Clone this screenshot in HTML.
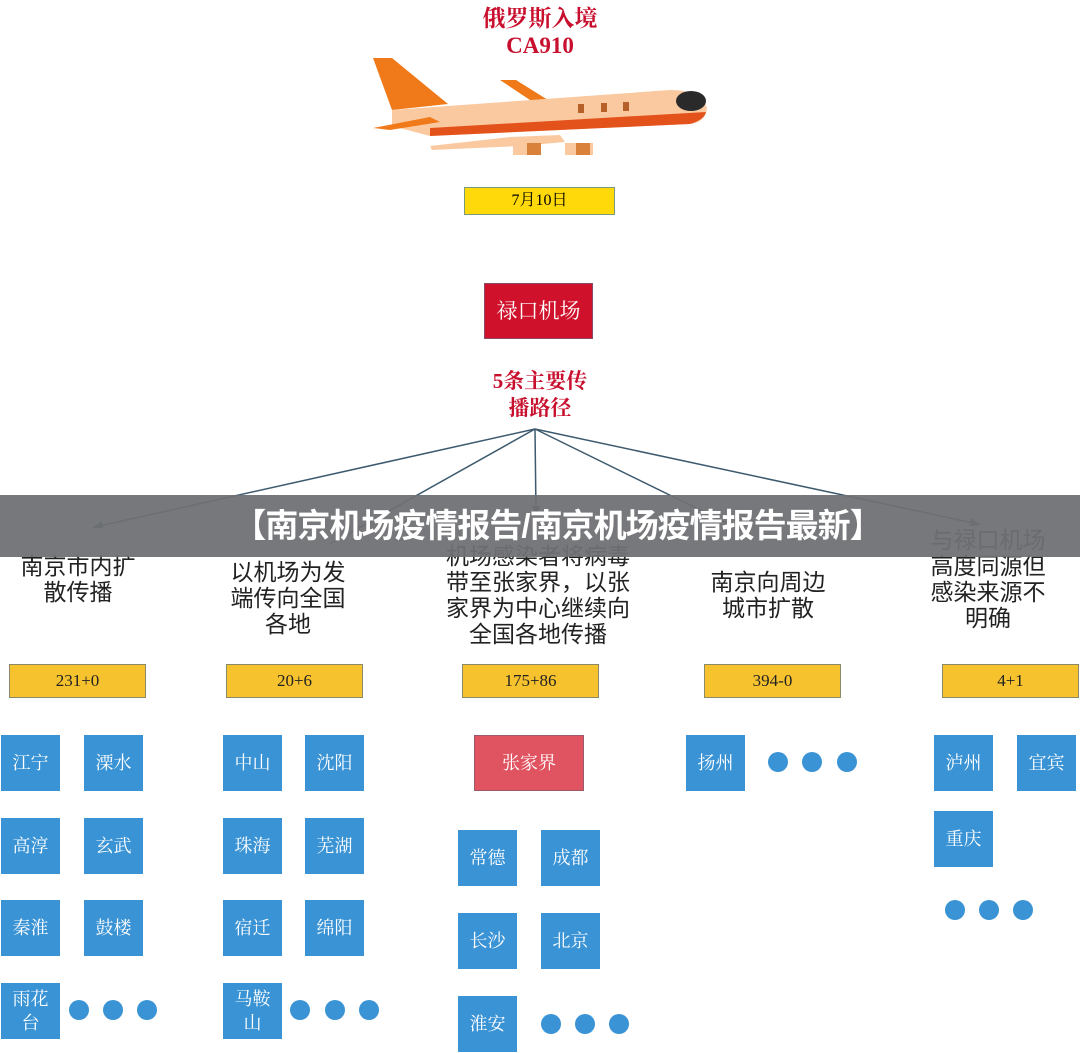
<!DOCTYPE html>
<html><head><meta charset="utf-8"><style>
html,body{margin:0;padding:0;background:#fff;}
body{width:1080px;height:1053px;position:relative;overflow:hidden;font-family:"Liberation Sans","Noto Sans CJK SC",sans-serif;}
.a{position:absolute;}
.red{color:#c8102e;font-family:"Liberation Serif","Noto Serif CJK SC",serif;font-size:23px;font-weight:bold;text-align:center;line-height:27px;}
.y{position:absolute;background:#f6c22e;border:1.5px solid #8a8a6a;box-sizing:border-box;height:34px;width:137px;text-align:center;line-height:31px;font-family:"Liberation Serif","Noto Serif CJK SC",serif;font-size:17px;color:#222;}
.b{position:absolute;width:59px;height:56px;background:#3a93d4;color:#fff;font-family:"Liberation Serif","Noto Serif CJK SC",serif;font-size:18px;display:flex;align-items:center;justify-content:center;text-align:center;line-height:24px;}
.d{position:absolute;width:20px;height:20px;border-radius:50%;background:#3a93d4;}
.l{position:absolute;font-size:23px;line-height:26px;text-align:center;color:#222;width:240px;}
</style></head><body>
<div class="a red" style="left:420px;top:5px;width:240px;">俄罗斯入境<br>CA910</div>
<svg class="a" style="left:0;top:0" width="1080" height="1053">
 <polygon points="373,58 392,58 448,104 392,110" fill="#f07a1a"/>
 <polygon points="500,80 516,80 548,100 530,100" fill="#f07a1a"/>
 <path d="M392,110 L670,90 Q700,90 707,108 Q706,122 690,124 L430,136 L392,126 Z" fill="#fbc9a0"/>
 <path d="M430,128 L706,112 Q704,120 690,124 L430,136 Z" fill="#e4521c"/>
 <ellipse cx="691" cy="101" rx="15" ry="10" fill="#2a2a2a"/>
 <rect x="578" y="104" width="6" height="9" fill="#b8602a"/>
 <rect x="601" y="103" width="6" height="9" fill="#b8602a"/>
 <rect x="623" y="102" width="6" height="9" fill="#b8602a"/>
 <polygon points="373,128 430,117 440,122 390,130" fill="#f07a1a"/>
 <polygon points="430,146 510,137 560,135 565,142 520,146 432,150" fill="#fbc9a0"/>
 <rect x="513" y="143" width="28" height="12" fill="#fbc9a0"/><rect x="527" y="143" width="14" height="12" fill="#d9803a"/>
 <rect x="565" y="143" width="28" height="12" fill="#fbc9a0"/><rect x="576" y="143" width="14" height="12" fill="#d9803a"/>
 <g stroke="#3d5a6e" stroke-width="1.5" fill="none">
  <line x1="535" y1="429" x2="95" y2="527"/>
  <line x1="535" y1="429" x2="330" y2="544"/>
  <line x1="535" y1="429" x2="536" y2="513"/>
  <line x1="535" y1="429" x2="745" y2="532"/>
  <line x1="535" y1="429" x2="978" y2="524"/>
 </g>
 <g fill="#3d5a6e">
  <polygon points="92,528 102,521 103,528"/>
  <polygon points="536,516 532,506 540,506"/>
  <polygon points="981,525 971,518 970,526"/>
 </g>
</svg>
<div class="a" style="left:464px;top:187px;width:151px;height:28px;background:#ffd90a;border:1.5px solid #7a9a7a;box-sizing:border-box;text-align:center;line-height:25px;font-family:'Liberation Serif','Noto Serif CJK SC',serif;font-size:16px;">7月10日</div>
<div class="a" style="left:484px;top:283px;width:109px;height:56px;background:#d0112b;border:1px solid #8a4a6a;box-sizing:border-box;color:#fff;text-align:center;line-height:54px;font-family:'Liberation Serif','Noto Serif CJK SC',serif;font-size:21px;">禄口机场</div>
<div class="a red" style="left:420px;top:368px;width:240px;font-size:21px;">5条主要传<br>播路径</div>

<div class="l" style="left:-42px;top:553px;">南京市内扩<br>散传播</div>
<div class="l" style="left:168px;top:559px;">以机场为发<br>端传向全国<br>各地</div>
<div class="l" style="left:418px;top:543px;">机场感染者将病毒<br>带至张家界，以张<br>家界为中心继续向<br>全国各地传播</div>
<div class="l" style="left:648px;top:569px;">南京向周边<br>城市扩散</div>
<div class="l" style="left:868px;top:527px;">与禄口机场<br>高度同源但<br>感染来源不<br>明确</div>

<div class="a" style="left:0;top:495px;width:1080px;height:62px;background:rgba(110,112,115,0.94);color:#fff;font-weight:bold;font-size:33px;letter-spacing:-1px;text-align:center;line-height:62px;padding-left:35px;box-sizing:border-box;">【南京机场疫情报告/南京机场疫情报告最新】</div>

<div class="y" style="left:9px;top:664px;">231+0</div>
<div class="y" style="left:226px;top:664px;">20+6</div>
<div class="y" style="left:462px;top:664px;">175+86</div>
<div class="y" style="left:704px;top:664px;">394-0</div>
<div class="y" style="left:942px;top:664px;">4+1</div>

<div class="b" style="left:1px;top:735px;">江宁</div><div class="b" style="left:84px;top:735px;">溧水</div>
<div class="b" style="left:1px;top:818px;">高淳</div><div class="b" style="left:84px;top:818px;">玄武</div>
<div class="b" style="left:1px;top:900px;">秦淮</div><div class="b" style="left:84px;top:900px;">鼓楼</div>
<div class="b" style="left:1px;top:983px;">雨花<br>台</div>
<div class="d" style="left:69px;top:1000px;"></div><div class="d" style="left:103px;top:1000px;"></div><div class="d" style="left:137px;top:1000px;"></div>

<div class="b" style="left:223px;top:735px;">中山</div><div class="b" style="left:305px;top:735px;">沈阳</div>
<div class="b" style="left:223px;top:818px;">珠海</div><div class="b" style="left:305px;top:818px;">芜湖</div>
<div class="b" style="left:223px;top:900px;">宿迁</div><div class="b" style="left:305px;top:900px;">绵阳</div>
<div class="b" style="left:223px;top:983px;">马鞍<br>山</div>
<div class="d" style="left:290px;top:1000px;"></div><div class="d" style="left:325px;top:1000px;"></div><div class="d" style="left:359px;top:1000px;"></div>

<div class="b" style="left:474px;top:735px;width:110px;background:#e05361;border:1px solid #9a5a6a;box-sizing:border-box;">张家界</div>
<div class="b" style="left:458px;top:830px;">常德</div><div class="b" style="left:541px;top:830px;">成都</div>
<div class="b" style="left:458px;top:913px;">长沙</div><div class="b" style="left:541px;top:913px;">北京</div>
<div class="b" style="left:458px;top:996px;">淮安</div>
<div class="d" style="left:541px;top:1014px;"></div><div class="d" style="left:575px;top:1014px;"></div><div class="d" style="left:609px;top:1014px;"></div>

<div class="b" style="left:686px;top:735px;">扬州</div>
<div class="d" style="left:768px;top:752px;"></div><div class="d" style="left:802px;top:752px;"></div><div class="d" style="left:837px;top:752px;"></div>

<div class="b" style="left:934px;top:735px;">泸州</div><div class="b" style="left:1017px;top:735px;">宜宾</div>
<div class="b" style="left:934px;top:811px;">重庆</div>
<div class="d" style="left:945px;top:900px;"></div><div class="d" style="left:979px;top:900px;"></div><div class="d" style="left:1013px;top:900px;"></div>
</body></html>
